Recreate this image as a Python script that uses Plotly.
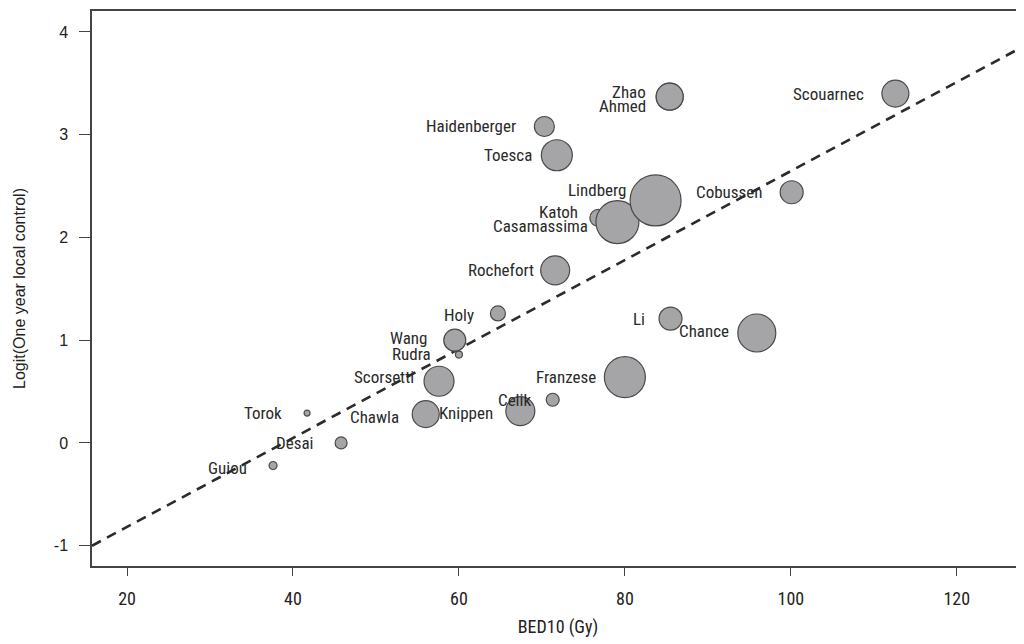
import plotly.graph_objects as go

# Study data
studies = ["Guiou", "Torok", "Desai", "Chawla", "Scorsetti", "Rudra", "Wang", "Holy",
           "Knippen", "Celik", "Rochefort", "Franzese", "Li", "Chance", "Katoh",
           "Casamassima", "Lindberg", "Cobussen", "Haidenberger", "Toesca", "Zhao",
           "Ahmed", "Scouarnec"]
bed10 = [37.6, 41.7, 45.8, 56.0, 57.6, 60.0, 59.5, 64.7,
         67.4, 71.3, 71.6, 80.0, 85.5, 95.9, 76.8,
         79.1, 83.7, 100.1, 70.3, 71.8, 85.4,
         85.4, 112.6]
logit_lc = [-0.22, 0.29, 0.00, 0.28, 0.60, 0.86, 1.00, 1.26,
            0.31, 0.42, 1.68, 0.64, 1.21, 1.07, 2.19,
            2.15, 2.36, 2.44, 3.08, 2.80, 3.37,
            3.37, 3.40]
weights = [8, 6, 12, 27, 30, 7, 22, 15,
           29, 13, 29, 41, 23, 38, 17,
           43, 51, 23, 20, 31, 27,
           27, 27]

# Meta-regression line: logit = intercept + slope * BED10
fit_intercept = -1.684
fit_slope = 0.0433
x_range = [15.78, 128.1]
y_range = [-1.198, 4.204]
x_ticks = [20, 40, 60, 80, 100, 120]
y_ticks = [-1, 0, 1, 2, 3, 4]
y_ticktext = ["-1", "0", "1", "2", "3", "4"]

# label pixel offsets (xshift, yshift) relative to bubble centres (right-anchored)
label_shift = {
    "Guiou": (-24, -2), "Torok": (-23, 0), "Desai": (-26, 0), "Chawla": (-25, -3),
    "Scorsetti": (-23, 4), "Rudra": (-26, 1), "Wang": (-26, 2), "Holy": (-22, -2),
    "Knippen": (-25, -2), "Celik": (-20, 0), "Rochefort": (-19, 0), "Franzese": (-27, 0),
    "Li": (-24, 0), "Chance": (-26, 2), "Katoh": (-18, 6), "Casamassima": (-27, -4),
    "Lindberg": (-28, 10), "Cobussen": (-28, 0), "Haidenberger": (-26, 0),
    "Toesca": (-23, 0), "Zhao": (-22, 5), "Ahmed": (-22, -9), "Scouarnec": (-29, 0),
}

LABEL_FONT = "Liberation Sans Narrow, Roboto Condensed, DejaVu Sans Condensed, sans-serif"
AXIS_FONT = "Liberation Sans, Arial, sans-serif"

fig = go.Figure()

fig.add_trace(go.Scatter(
    x=x_range,
    y=[fit_intercept + fit_slope * v for v in x_range],
    mode="lines",
    line=dict(color="#2b2b2b", width=2.6, dash="10px,7px"),
    hoverinfo="skip", showlegend=False,
))

fig.add_trace(go.Scatter(
    x=bed10, y=logit_lc, mode="markers",
    marker=dict(size=weights, sizemode="diameter", sizeref=1,
                color="#a5a5a7", opacity=1,
                line=dict(color="#4a4a4a", width=1.2)),
    text=studies, hoverinfo="text", showlegend=False,
))

for name, xv, yv in zip(studies, bed10, logit_lc):
    dx, dy = label_shift[name]
    fig.add_annotation(
        x=xv, y=yv, text=name, showarrow=False,
        xanchor="right", yanchor="middle",
        xshift=dx, yshift=dy,
        font=dict(family=LABEL_FONT, size=17, color="#2a2a2a"),
    )

# page body has an 8px default margin, so margins are reduced by 8px
fig.update_layout(
    width=1024, height=644,
    margin=dict(l=84, r=8, t=3, b=86, autoexpand=False),
    plot_bgcolor="white", paper_bgcolor="white",
    font=dict(family=LABEL_FONT, size=16, color="#222"),
)
fig.update_xaxes(
    range=x_range, tickvals=x_ticks, automargin=False,
    showline=True, linecolor="#444", linewidth=1.5, mirror=True,
    ticks="outside", ticklen=8, tickcolor="#444", tickwidth=1.2,
    ticklabelstandoff=8,
    showgrid=False, zeroline=False,
    tickfont=dict(family=LABEL_FONT, size=18, color="#222"),
    title=dict(text="BED10 (Gy)", font=dict(family=LABEL_FONT, size=18, color="#222"), standoff=12),
)
fig.update_yaxes(
    range=y_range, tickvals=y_ticks, ticktext=y_ticktext, automargin=False,
    showline=True, linecolor="#444", linewidth=1.5,
    ticks="outside", ticklen=11, tickcolor="#444", tickwidth=1.2,
    ticklabelstandoff=8,
    showgrid=False, zeroline=False,
    tickfont=dict(family=AXIS_FONT, size=16, color="#222"),
    title=dict(text="Logit(One year local control)",
               font=dict(family=AXIS_FONT, size=16, color="#222"),
               standoff=24),
)

fig.write_html("out.html")
